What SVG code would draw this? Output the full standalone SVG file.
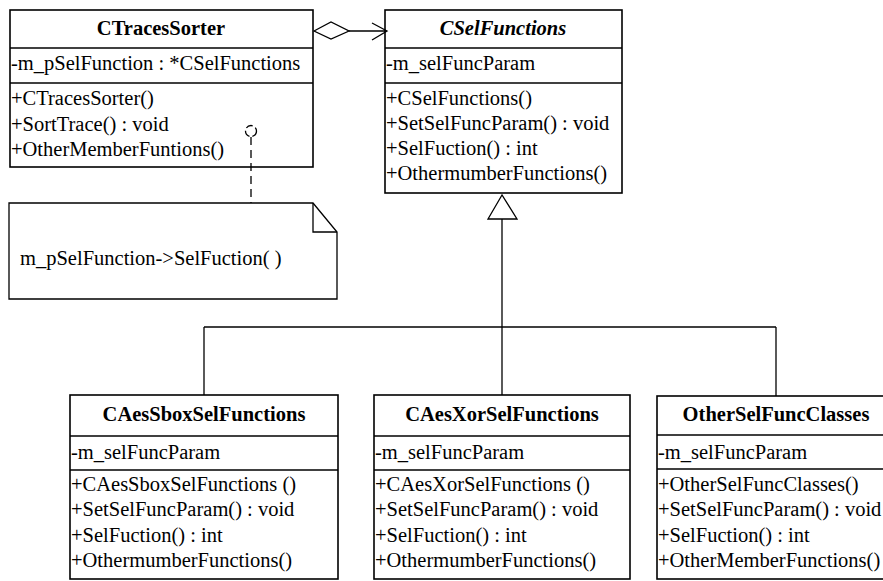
<svg xmlns="http://www.w3.org/2000/svg" width="883" height="581" viewBox="0 0 883 581">
<style>
.box{fill:#fff;stroke:#000;stroke-width:1.6}
.div{stroke:#000;stroke-width:1.6}
text{font-family:'Liberation Serif','DejaVu Serif','Times New Roman',serif;font-size:20.5px;fill:#000}
.h{font-weight:bold;text-anchor:middle}
.ln{fill:none;stroke:#000;stroke-width:1.3}
</style>
<rect width="883" height="581" fill="#fff"/>
<g id="CTracesSorter">
<rect class="box" x="10" y="10" width="303" height="157"/>
<line class="div" x1="10" y1="48" x2="313" y2="48"/>
<line class="div" x1="10" y1="83" x2="313" y2="83"/>
<text class="h" x="161" y="35">CTracesSorter</text>
<text x="11" y="70">-m_pSelFunction : *CSelFunctions</text>
<text x="11" y="105">+CTracesSorter()</text>
<text x="11" y="131">+SortTrace() : void</text>
<text x="11" y="156">+OtherMemberFuntions()</text>
</g>
<g id="CSelFunctions">
<rect class="box" x="385" y="10" width="237" height="183"/>
<line class="div" x1="385" y1="48" x2="622" y2="48"/>
<line class="div" x1="385" y1="83" x2="622" y2="83"/>
<text class="h" x="503" y="35" font-style="italic">CSelFunctions</text>
<text x="386" y="70">-m_selFuncParam</text>
<text x="386" y="105">+CSelFunctions()</text>
<text x="386" y="130">+SetSelFuncParam() : void</text>
<text x="386" y="155">+SelFuction() : int</text>
<text x="386" y="180">+OthermumberFunctions()</text>
</g>
<g id="note">
<polygon class="ln" points="9,203 313,203 337,232 337,299 9,299" fill="#fff"/>
<polyline class="ln" points="313,203 313,232 337,232"/>
<text x="20" y="265">m_pSelFunction-&gt;SelFuction( )</text>
</g>
<g id="CAesSboxSelFunctions">
<rect class="box" x="70" y="395" width="268" height="184"/>
<line class="div" x1="70" y1="436" x2="338" y2="436"/>
<line class="div" x1="70" y1="470" x2="338" y2="470"/>
<text class="h" x="204" y="421">CAesSboxSelFunctions</text>
<text x="71" y="459">-m_selFuncParam</text>
<text x="71" y="491">+CAesSboxSelFunctions ()</text>
<text x="71" y="516">+SetSelFuncParam() : void</text>
<text x="71" y="542">+SelFuction() : int</text>
<text x="71" y="567">+OthermumberFunctions()</text>
</g>
<g id="CAesXorSelFunctions">
<rect class="box" x="374" y="395" width="256" height="184"/>
<line class="div" x1="374" y1="436" x2="630" y2="436"/>
<line class="div" x1="374" y1="470" x2="630" y2="470"/>
<text class="h" x="502" y="421">CAesXorSelFunctions</text>
<text x="375" y="459">-m_selFuncParam</text>
<text x="375" y="491">+CAesXorSelFunctions ()</text>
<text x="375" y="516">+SetSelFuncParam() : void</text>
<text x="375" y="542">+SelFuction() : int</text>
<text x="375" y="567">+OthermumberFunctions()</text>
</g>
<g id="OtherSelFuncClasses">
<rect class="box" x="657" y="396" width="240" height="183"/>
<line class="div" x1="657" y1="435" x2="897" y2="435"/>
<line class="div" x1="657" y1="469" x2="897" y2="469"/>
<text class="h" x="776" y="421">OtherSelFuncClasses</text>
<text x="658" y="459">-m_selFuncParam</text>
<text x="658" y="491">+OtherSelFuncClasses()</text>
<text x="658" y="516">+SetSelFuncParam() : void</text>
<text x="658" y="542">+SelFuction() : int</text>
<text x="658" y="567">+OtherMemberFunctions()</text>
</g>
<g id="connectors">
<polygon class="ln" points="314,31 331,22 349,31 331,39" fill="#fff"/>
<line class="ln" x1="349" y1="31" x2="386" y2="31"/>
<polyline class="ln" points="372,23 387,31 372,40"/>
<polygon class="ln" points="502,195 488,219 517,219"/>
<line class="ln" x1="502" y1="219" x2="502" y2="395"/>
<line class="ln" x1="204" y1="327" x2="776" y2="327"/>
<line class="ln" x1="204" y1="327" x2="204" y2="395"/>
<line class="ln" x1="776" y1="327" x2="776" y2="396"/>
<line class="ln" x1="251" y1="137" x2="251" y2="203" stroke-dasharray="8,5"/>
<circle class="ln" cx="251" cy="131" r="5.5" stroke-width="1.5" stroke-dasharray="7,3"/>
</g>
</svg>
